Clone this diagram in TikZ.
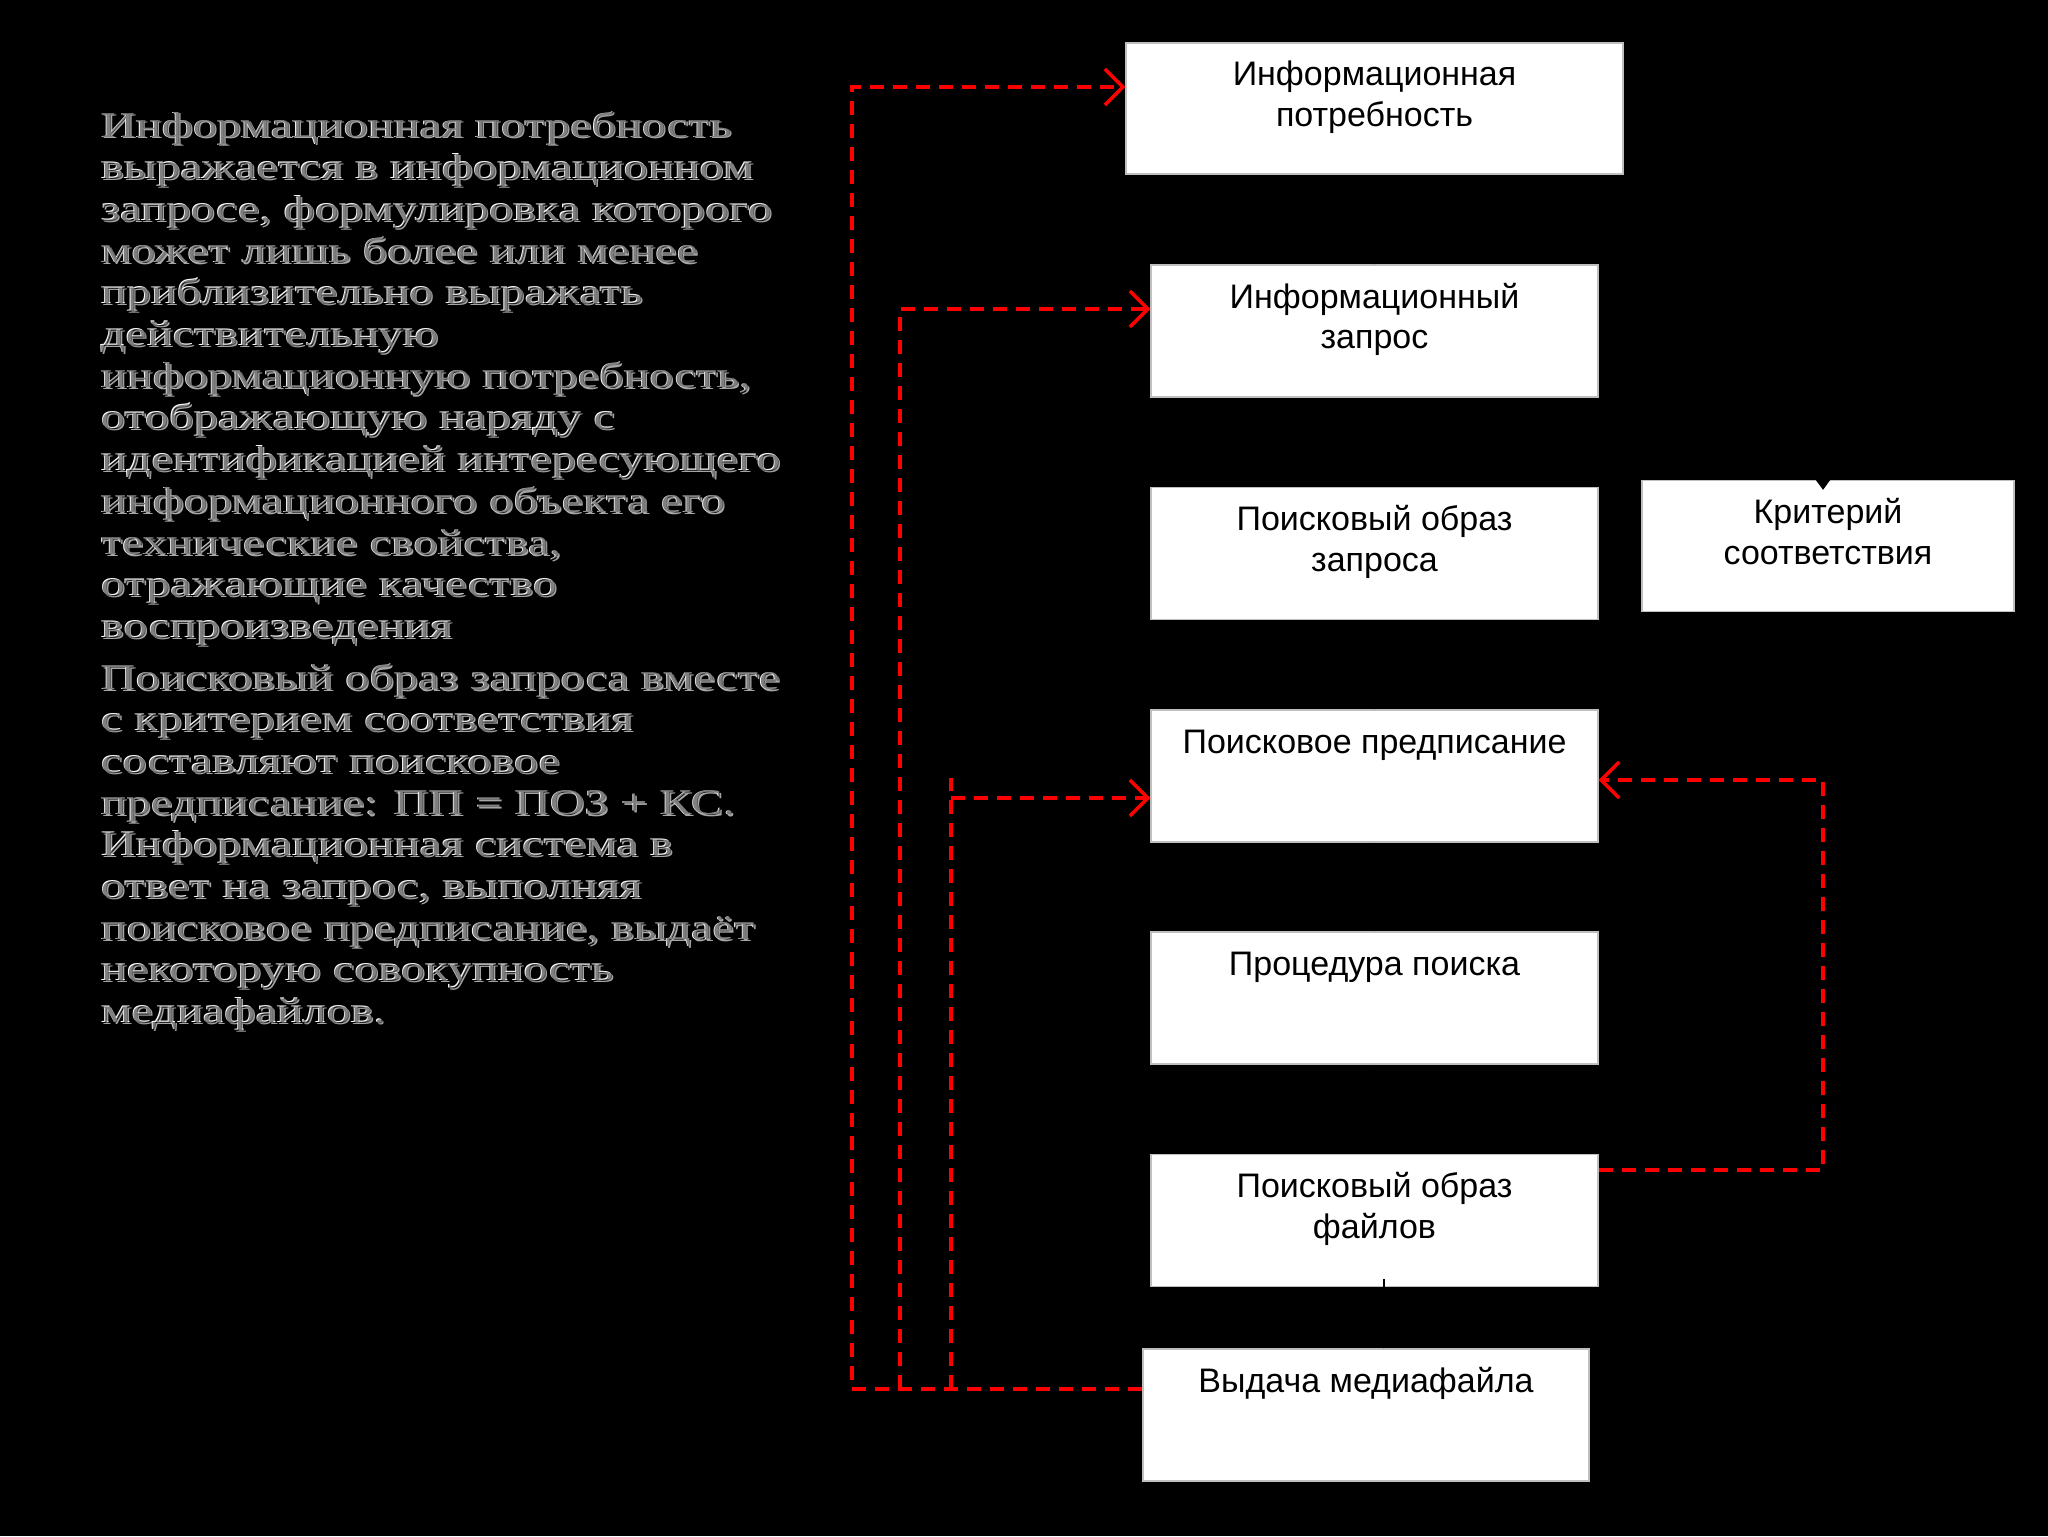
\documentclass[tikz,border=0pt]{standalone}
\usepackage{graphicx}
\usepackage{fontspec}
\setmainfont{Liberation Serif}
\newfontfamily\arialf{Liberation Sans}
\usetikzlibrary{arrows.meta}
\tikzset{
 boxn/.style={draw=gray!50, line width=0.6pt, fill=white, inner sep=0pt, text=black, font=\arialf\fontsize{17pt}{20.25pt}\selectfont},
 reddash/.style={draw=red, line width=1.6pt, dash pattern=on 7pt off 4.5pt},
 redarr/.style={reddash, -{Straight Barb[length=9pt,width=18pt,line width=1.8pt]}},
 blkarr/.style={draw=black, line width=1pt, -{Triangle[length=5pt,width=7pt]}},
 ptext/.style={anchor=base west, inner sep=0pt, text=white, font=\fontsize{18pt}{20.85pt}\selectfont},
 pshadow/.style={ptext, text=gray!70},
 pinner/.style={ptext, text=black, text opacity=0.5},
}
\newcommand{\boxtext}[3]{\parbox[c][#2][t]{#1}{\centering\rule{0pt}{21.5pt}#3}}
\newcommand{\parone}{\scalebox{1.34}[1]{\parbox[t]{320pt}{\lineskiplimit=-100pt\raggedright
Информационная потребность\\
выражается в информационном\\
запросе, формулировка которого\\
может лишь более или менее\\
приблизительно выражать\\
действительную\\
информационную потребность,\\
отображающую наряду с\\
идентификацией интересующего\\
информационного объекта его\\
технические свойства,\\
отражающие качество\\
воспроизведения}}}
\newcommand{\partwo}{\scalebox{1.34}[1]{\parbox[t]{320pt}{\lineskiplimit=-100pt\raggedright
Поисковый образ запроса вместе\\
с критерием соответствия\\
составляют поисковое\\
предписание: ПП = ПОЗ + КС.\\
Информационная система в\\
ответ на запрос, выполняя\\
поисковое предписание, выдаёт\\
некоторую совокупность\\
медиафайлов.}}}
\begin{document}
\begin{tikzpicture}[x=0.5pt,y=-0.5pt]
\useasboundingbox (0,0) rectangle (2048,1536);
\fill[black] (0,0) rectangle (2048,1536);

% left text, embossed look: grey shadow, white outline, darker inside
\node[pshadow] (p1s) at (102,139) {\parone};
\node[ptext] (p1) at (100,137) {\parone};
\node[pinner] (p1i) at (100.8,137.6) {\parone};
\node[pshadow] (p2s) at (102,691) {\partwo};
\node[ptext] (p2) at (100,689) {\partwo};
\node[pinner] (p2i) at (100.8,689.6) {\partwo};

% boxes
\node[boxn] (b1) at (1374.5,108.5) {\boxtext{248.5pt}{65.5pt}{Информационная\\потребность}};
\node[boxn] (b2) at (1374.5,331) {\boxtext{223.5pt}{66pt}{Информационный\\запрос}};
\node[boxn] (b3) at (1374.5,553.5) {\boxtext{223.5pt}{66pt}{Поисковый образ\\запроса}};
\node[boxn] (b4) at (1374.5,776) {\boxtext{223.5pt}{66pt}{Поисковое предписание}};
\node[boxn] (b5) at (1374.5,998) {\boxtext{223.5pt}{66pt}{Процедура поиска}};
\node[boxn] (b6) at (1374.5,1220.5) {\boxtext{223.5pt}{66pt}{Поисковый образ\\файлов}};
\node[boxn] (b7) at (1366,1415) {\boxtext{223pt}{66pt}{Выдача медиафайла}};
\node[boxn] (krit) at (1828,546) {\boxtext{186pt}{65.5pt}{Критерий\\соответствия}};

% black connectors (black on black)
\draw[blkarr] (b1) -- (b2);
\draw[blkarr] (b2) -- (b3);
\draw[blkarr] (b3) -- (b4);
\draw[blkarr] (b4) -- (b5);
\draw[blkarr] (b5) -- (b6);
\draw[blkarr] ([xshift=4.5pt,yshift=4pt]b6.south) -- ([xshift=4.5pt]b6.south |- b7.north);
\coordinate (kc) at (1823,420);
\draw[blkarr, shorten >=-5pt] (kc) -- (kc |- krit.north);

% red dashed connectors
\coordinate (v1t) at (852,87);
\coordinate (v1b) at (852,1389);
\coordinate (v2t) at (900,309);
\coordinate (v2b) at (900,1389);
\coordinate (v3t) at (951,778);
\coordinate (v3b) at (951,1389);
\coordinate (v3h) at (951,798);
\coordinate (rt) at (1823,780);
\coordinate (rb) at (1823,1170);
\draw[redarr] (b7.west |- v1b) -- (v1b) -- (v1t) -- (b1.west |- v1t);
\draw[redarr] (v2b) -- (v2t) -- (b2.west |- v2t);
\draw[reddash] (v3b) -- (v3t);
\draw[redarr] (v3h) -- (b4.west |- v3h);
\draw[redarr] (b6.east |- rb) -- (rb) -- (rt) -- (b4.east |- rt);
\end{tikzpicture}
\end{document}
